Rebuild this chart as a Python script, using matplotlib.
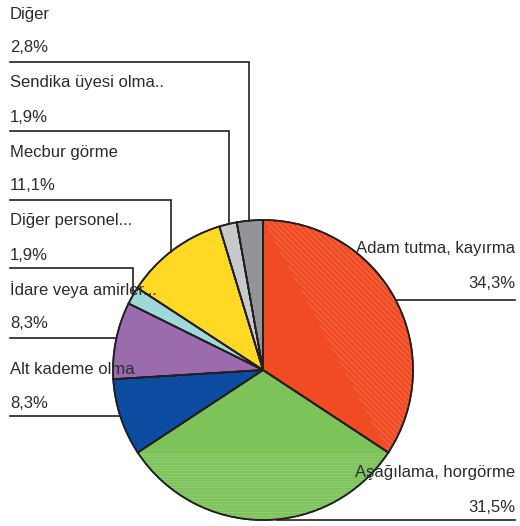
import numpy as np
import matplotlib
matplotlib.use("Agg")
import matplotlib.pyplot as plt
from matplotlib.patches import Polygon

plt.rcParams['font.family'] = ['Liberation Sans', 'DejaVu Sans']

labels = ["Adam tutma, kayırma", "Aşağılama, horgörme", "Alt kademe olma",
          "İdare veya amirler...", "Diğer personel...", "Mecbur görme",
          "Sendika üyesi olma..", "Diğer"]
values = [34.3, 31.5, 8.3, 8.3, 1.9, 11.1, 1.9, 2.8]
pct_labels = ["34,3%", "31,5%", "8,3%", "8,3%", "1,9%", "11,1%", "1,9%", "2,8%"]
colors = ["#F04B23", "#7DC35A", "#0C4DA2", "#9B6BAE", "#9ED8D8",
          "#FFD923", "#C7C8CA", "#929497"]

W, H = 520, 526
fig = plt.figure(figsize=(W / 100, H / 100), dpi=100)
ax = fig.add_axes([0, 0, 1, 1])

def Y(py):
    return H - py

cx, cy, R = 263, Y(370), 150
wedges, _ = ax.pie(values, colors=colors, startangle=90, counterclock=False,
                   center=(cx, cy), radius=R, frame=True,
                   wedgeprops=dict(edgecolor='#231f20', linewidth=1.2))
ax.set_xlim(0, W)
ax.set_ylim(0, H)
ax.set_aspect('equal')
ax.axis('off')

# rendering-artifact stripes (circular segment of the two large wedges)
plt.rcParams['hatch.linewidth'] = 0.5
def segment(w, hatch, hc):
    t = np.radians(np.linspace(w.theta1, w.theta2, 120))
    pts = np.column_stack([cx + R * np.cos(t), cy + R * np.sin(t)])
    p = Polygon(pts, closed=True, facecolor='none', edgecolor=hc,
                linewidth=0, hatch=hatch, zorder=wedges[0].get_zorder() + 0.1)
    ax.add_patch(p)

segment(wedges[0], '\\\\\\\\\\\\', '#F5795A')
segment(wedges[1], '------', '#98D17E')
for w in wedges:
    t = np.radians(np.linspace(w.theta1, w.theta2, 120))
    pts = np.column_stack([cx + R * np.cos(t), cy + R * np.sin(t)])
    pts = np.vstack([[cx, cy], pts])
    ax.add_patch(Polygon(pts, closed=True, facecolor='none',
                         edgecolor='#231f20', linewidth=1.2, zorder=5))

fs = 12
tc = '#2b2b2b'
lc = '#231f20'
lw = 1.2

# left-side labels: (index, name y, pct y, underline y, corner x, mode)
left = [
    (7, 14, 48, 62, 249, 'v'),
    (6, 83, 117, 131, 229, 'v'),
    (5, 152, 186, 200, 171, 'v'),
    (4, 221, 255, 268, 133, 'v'),
    (3, 290, 323, 338, None, 'h'),
    (2, 370, 404, 416, None, 'h'),
]
for idx, ny, py, uy, x2, mode in left:
    ax.text(10, Y(ny), labels[idx], fontsize=fs, color=tc, va='center', ha='left', zorder=6)
    ax.text(10, Y(py), pct_labels[idx], fontsize=fs, color=tc, va='center', ha='left', zorder=6)
    if mode == 'v':
        yend = cy + np.sqrt(R**2 - (x2 - cx)**2)
        ax.plot([10, x2, x2], [Y(uy), Y(uy), yend], color=lc, lw=lw, zorder=4,
                solid_joinstyle='miter')
    else:
        xend = cx - np.sqrt(R**2 - (Y(uy) - cy)**2)
        ax.plot([10, xend], [Y(uy), Y(uy)], color=lc, lw=lw, zorder=4)

# right-side labels
ax.text(515, Y(249), labels[0], fontsize=fs, color=tc, va='center', ha='right', zorder=6)
ax.text(515, Y(283), pct_labels[0], fontsize=fs, color=tc, va='center', ha='right', zorder=6)
xs = cx + np.sqrt(R**2 - (Y(300) - cy)**2)
ax.plot([xs, 515], [Y(300), Y(300)], color=lc, lw=lw, zorder=4)

ax.text(515, Y(473), labels[1], fontsize=fs, color=tc, va='center', ha='right', zorder=6)
ax.text(515, Y(507), pct_labels[1], fontsize=fs, color=tc, va='center', ha='right', zorder=6)
ax.plot([277, 515], [Y(520), Y(520)], color=lc, lw=lw, zorder=4)

fig.savefig('out.png', dpi=100)
